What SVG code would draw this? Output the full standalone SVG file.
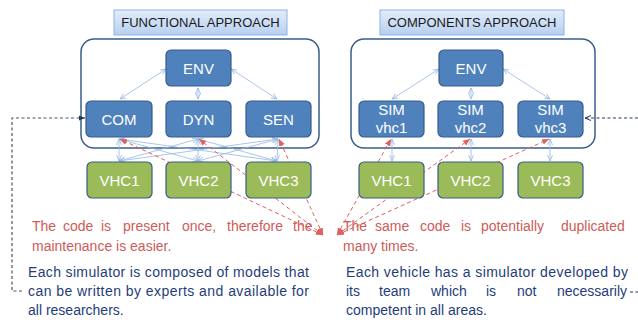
<svg xmlns="http://www.w3.org/2000/svg" width="638" height="320" viewBox="0 0 638 320">
<style>
.title{fill:url(#tg);stroke:#8db3e2;stroke-width:1}
.tt{font-family:"Liberation Sans",Arial,sans-serif;font-size:13px;fill:#1a1a1a;text-anchor:middle}
.cont{fill:#fff;stroke:#385d8a;stroke-width:1.5}
.nb{fill:#4f81bd;stroke:#385d8a;stroke-width:1.2}
.ng{fill:#9bbb59;stroke:#385d8a;stroke-width:1.2}
.nt{font-family:"Liberation Sans",Arial,sans-serif;font-size:15px;fill:#fff;text-anchor:middle}
.bl{stroke:#95b7e3;stroke-width:0.8;fill:none;marker-start:url(#ab);marker-end:url(#ab)}
.rd{stroke:#e06060;stroke-width:1;stroke-dasharray:4,3;fill:none;marker-start:url(#ar);marker-end:url(#ar)}
.red{font-family:"Liberation Sans",Arial,sans-serif;font-size:14px;fill:#cc5c59}
.blu{font-family:"Liberation Sans",Arial,sans-serif;font-size:14px;fill:#1f3d7a}
</style>
<defs>
<linearGradient id="tg" x1="0" y1="0" x2="0" y2="1">
<stop offset="0" stop-color="#e3edfb"/>
<stop offset="1" stop-color="#b7cff1"/>
</linearGradient>
<marker id="ab" viewBox="0 0 6 6" refX="6" refY="3" markerWidth="6" markerHeight="6" markerUnits="userSpaceOnUse" orient="auto-start-reverse">
<path d="M0,0.5 L6,3 L0,5.5" fill="none" stroke="#95b7e3" stroke-width="0.8"/>
</marker>
<marker id="ar" viewBox="0 0 7 7" refX="7" refY="3.5" markerWidth="7" markerHeight="7" markerUnits="userSpaceOnUse" orient="auto-start-reverse">
<path d="M0,0.5 L7,3.5 L0,6.5 Z" fill="#e06060"/>
</marker>
<marker id="an" viewBox="0 0 6 6" refX="6" refY="3" markerWidth="6" markerHeight="6" markerUnits="userSpaceOnUse" orient="auto">
<path d="M0,0.5 L6,3 L0,5.5" fill="none" stroke="#203864" stroke-width="1"/>
</marker>
<marker id="ag" viewBox="0 0 6 6" refX="6" refY="3" markerWidth="6" markerHeight="6" markerUnits="userSpaceOnUse" orient="auto">
<path d="M0,0.5 L6,3 L0,5.5 Z" fill="#203864"/>
</marker>
</defs>

<g id="functional-title">
<rect class="title" x="114" y="10" width="173" height="25"/>
<text class="tt" x="200.5" y="27">FUNCTIONAL APPROACH</text>
</g>
<g id="components-title">
<rect class="title" x="380" y="10" width="184" height="25"/>
<text class="tt" x="472" y="27">COMPONENTS APPROACH</text>
</g>

<g id="functional-container"><rect class="cont" x="81" y="39" width="238" height="109" rx="13"/></g>
<g id="components-container"><rect class="cont" x="351" y="39" width="244" height="109" rx="13"/></g>

<g id="connectors">
<line class="bl" x1="166" y1="69" x2="120" y2="99"/>
<line class="bl" x1="198" y1="88" x2="198" y2="99"/>
<line class="bl" x1="231" y1="69" x2="277" y2="99"/>
<line class="bl" x1="119" y1="139" x2="119" y2="161"/>
<line class="bl" x1="119" y1="139" x2="198" y2="161"/>
<line class="bl" x1="119" y1="139" x2="277" y2="161"/>
<line class="bl" x1="198" y1="139" x2="119" y2="161"/>
<line class="bl" x1="198" y1="139" x2="198" y2="161"/>
<line class="bl" x1="198" y1="139" x2="277" y2="161"/>
<line class="bl" x1="278" y1="139" x2="119" y2="161"/>
<line class="bl" x1="278" y1="139" x2="198" y2="161"/>
<line class="bl" x1="278" y1="139" x2="277" y2="161"/>
<line class="bl" x1="439" y1="69" x2="392" y2="99"/>
<line class="bl" x1="471" y1="88" x2="471" y2="99"/>
<line class="bl" x1="503" y1="69" x2="550" y2="99"/>
<line class="bl" x1="392" y1="139" x2="392" y2="161"/>
<line class="bl" x1="471" y1="139" x2="471" y2="161"/>
<line class="bl" x1="550" y1="139" x2="550" y2="161"/>
<line class="rd" x1="323" y1="235" x2="120" y2="139"/>
<line class="rd" x1="323" y1="235" x2="199" y2="139"/>
<line class="rd" x1="323" y1="235" x2="279" y2="139"/>
<line class="rd" x1="337" y1="235" x2="391" y2="139"/>
<line class="rd" x1="337" y1="235" x2="470" y2="139"/>
<line class="rd" x1="337" y1="235" x2="549" y2="139"/>
<polyline points="22,291 12,291 12,118 85,118" fill="none" stroke="#44546a" stroke-width="1.2" stroke-dasharray="3,2.5" marker-end="url(#ag)"/>
<line x1="638" y1="118" x2="585" y2="118" stroke="#203864" stroke-width="1.2" stroke-dasharray="3,2.5" marker-end="url(#an)"/>
<line x1="630" y1="292" x2="638" y2="292" stroke="#203864" stroke-width="1.2" stroke-dasharray="3,2.5"/>
</g>

<g id="f-env"><rect class="nb" x="166" y="50" width="65" height="36" rx="5"/><text class="nt" x="198.5" y="73.5">ENV</text></g>
<g id="f-com"><rect class="nb" x="86" y="101" width="66" height="36" rx="5"/><text class="nt" x="119" y="124.5">COM</text></g>
<g id="f-dyn"><rect class="nb" x="166" y="101" width="65" height="36" rx="5"/><text class="nt" x="198.5" y="124.5">DYN</text></g>
<g id="f-sen"><rect class="nb" x="246" y="101" width="65" height="36" rx="5"/><text class="nt" x="278.5" y="124.5">SEN</text></g>
<g id="f-vhc1"><rect class="ng" x="87" y="162" width="65" height="36" rx="5"/><text class="nt" x="119.5" y="185.5">VHC1</text></g>
<g id="f-vhc2"><rect class="ng" x="166" y="162" width="65" height="36" rx="5"/><text class="nt" x="198.5" y="185.5">VHC2</text></g>
<g id="f-vhc3"><rect class="ng" x="246" y="162" width="65" height="36" rx="5"/><text class="nt" x="278.5" y="185.5">VHC3</text></g>

<g id="c-env"><rect class="nb" x="439" y="50" width="64" height="36" rx="5"/><text class="nt" x="471" y="73.5">ENV</text></g>
<g id="c-sim1"><rect class="nb" x="359" y="101" width="65" height="36" rx="5"/><text class="nt" x="391.5" y="115">SIM</text><text class="nt" x="391.5" y="133">vhc1</text></g>
<g id="c-sim2"><rect class="nb" x="438" y="101" width="65" height="36" rx="5"/><text class="nt" x="470.5" y="115">SIM</text><text class="nt" x="470.5" y="133">vhc2</text></g>
<g id="c-sim3"><rect class="nb" x="518" y="101" width="65" height="36" rx="5"/><text class="nt" x="550.5" y="115">SIM</text><text class="nt" x="550.5" y="133">vhc3</text></g>
<g id="c-vhc1"><rect class="ng" x="359" y="162" width="65" height="36" rx="5"/><text class="nt" x="391.5" y="185.5">VHC1</text></g>
<g id="c-vhc2"><rect class="ng" x="438" y="162" width="65" height="36" rx="5"/><text class="nt" x="470.5" y="185.5">VHC2</text></g>
<g id="c-vhc3"><rect class="ng" x="518" y="162" width="65" height="36" rx="5"/><text class="nt" x="550.5" y="185.5">VHC3</text></g>

<g id="left-notes">
<text class="red" y="231"><tspan x="32">The</tspan><tspan x="63">code</tspan><tspan x="101">is</tspan><tspan x="123">present</tspan><tspan x="182">once,</tspan><tspan x="227">therefore</tspan><tspan x="293">the</tspan></text>
<text class="red" x="32" y="251">maintenance is easier.</text>
<text class="blu" x="28" y="277" textLength="281" lengthAdjust="spacing">Each simulator is composed of models that</text>
<text class="blu" x="28" y="296" textLength="281" lengthAdjust="spacing">can be written by experts and available for</text>
<text class="blu" x="28" y="315">all researchers.</text>
</g>
<g id="right-notes">
<text class="red" y="231"><tspan x="343">The</tspan><tspan x="375">same</tspan><tspan x="420">code</tspan><tspan x="461">is</tspan><tspan x="481">potentially</tspan><tspan x="561">duplicated</tspan></text>
<text class="red" x="343" y="251">many times.</text>
<text class="blu" x="346" y="277" textLength="282" lengthAdjust="spacing">Each vehicle has a simulator developed by</text>
<text class="blu" y="296"><tspan x="346">its</tspan><tspan x="379">team</tspan><tspan x="431">which</tspan><tspan x="486">is</tspan><tspan x="517">not</tspan><tspan x="557">necessarily</tspan></text>
<text class="blu" x="346" y="315">competent in all areas.</text>
</g>
</svg>
